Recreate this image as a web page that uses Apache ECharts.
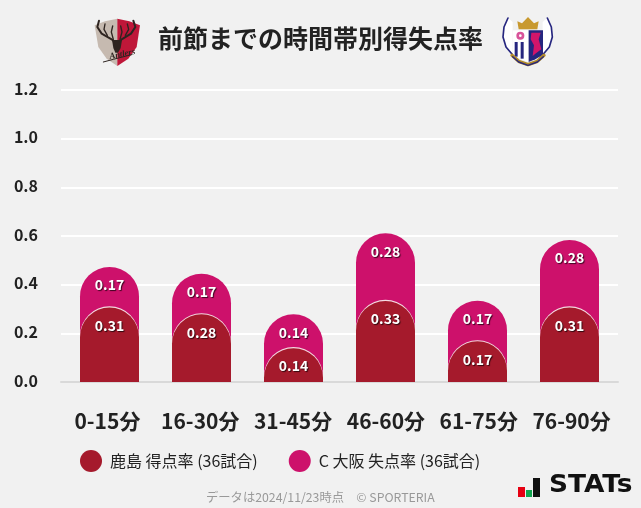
<!DOCTYPE html>
<html><head><meta charset="utf-8">
<style>html,body{margin:0;padding:0;background:#f1f1f1}#c{width:641px;height:508px}</style>
<script src="https://cdn.jsdelivr.net/npm/echarts@6/dist/echarts.min.js"></script>
</head><body><div id="c"></div>
<script>
const categories = ['0-15分','16-30分','31-45分','46-60分','61-75分','76-90分'];
const scored = [0.306,0.278,0.139,0.333,0.167,0.306];
const conceded = [0.167,0.167,0.139,0.278,0.167,0.278];
const scoredName = '鹿島 得点率 (36試合)';
const concededName = 'C 大阪 失点率 (36試合)';
const titleText = '前節までの時間帯別得失点率';
const footText = 'データは2024/11/23時点　© SPORTERIA';
const F = '"Noto Sans CJK JP","Noto Sans",sans-serif';
const RED='#a51a2c', PINK='#cd116b';
const chart = echarts.init(document.getElementById('c'),null,{renderer:'canvas'});
const lab = v => ({show:true,position:'insideTop',distance:11,color:'#fff',fontFamily:F,fontWeight:'bold',fontSize:14,
  textShadowColor:'rgba(0,0,0,.7)',textShadowBlur:1,textShadowOffsetX:1,textShadowOffsetY:1,
  formatter:p=>v[p.dataIndex].toFixed(2)});
const line=(points,w,c)=>({type:'polyline',shape:{points},style:{stroke:c,lineWidth:w,fill:'none',lineCap:'round',lineJoin:'round'}});
const poly=(points,c,smooth)=>({type:'polygon',shape:{points,smooth:smooth||0},style:{fill:c}});
const ANT='#2e2420', NAVY='#26267f';
chart.setOption({
  animation:false,
  backgroundColor:'#f1f1f1',
  textStyle:{fontFamily:F},
  title:[{text:titleText,left:153,top:21,textStyle:{fontFamily:F,fontSize:25,fontWeight:'bold',color:'#222'}},
         {text:footText,left:201,top:486,textStyle:{fontFamily:F,fontSize:12.3,fontWeight:'normal',color:'#999'}}],
  legend:{left:80,top:450,padding:0,itemWidth:22,itemHeight:22,itemGap:31,icon:'circle',
    itemStyle:{borderWidth:0},
    data:[scoredName,concededName],
    textStyle:{fontFamily:F,fontSize:16,color:'#222',padding:[0,0,0,3]}},
  grid:[{left:61,width:557,top:90,height:292},{left:63.5,width:552,top:90,height:292}],
  xAxis:[
    {gridIndex:0,type:'category',data:categories,offset:1,axisTick:{show:false},
     axisLine:{lineStyle:{color:'#d9d9d9',width:2}},
     axisLabel:{color:'#222',fontFamily:F,fontWeight:'bold',fontSize:21,margin:28,interval:0}},
    {gridIndex:1,type:'category',data:categories,axisTick:{show:false},axisLine:{show:false},axisLabel:{show:false}}
  ],
  yAxis:[
    {gridIndex:0,type:'value',min:0,max:1.2,interval:0.2,
     axisLabel:{color:'#222',fontFamily:F,fontWeight:'bold',fontSize:16,margin:23,verticalAlign:'bottom',lineHeight:3,formatter:v=>v.toFixed(1)},
     axisLine:{show:false},axisTick:{show:false},splitLine:{lineStyle:{color:'#ffffff',width:2}}},
    {gridIndex:1,type:'value',min:0,max:1.2,interval:0.2,show:false,splitLine:{show:false}}
  ],
  series:[
    {name:concededName,type:'bar',xAxisIndex:1,yAxisIndex:1,barWidth:59,barGap:'-100%',
     data:conceded.map((v,i)=>+(v+scored[i]).toFixed(3)),
     itemStyle:{color:PINK,borderRadius:[30,30,0,0]},label:lab(conceded)},
    {name:scoredName,type:'bar',xAxisIndex:1,yAxisIndex:1,barWidth:59,barGap:'-100%',
     data:scored,
     itemStyle:{color:RED,borderRadius:[30,30,0,0],shadowColor:'#f3d9e0',shadowBlur:0,shadowOffsetY:-1.2},label:lab(scored)}
  ],
  graphic:[
    {type:'group',x:90,y:12,scaleX:1/3,scaleY:1/3,children:[
      poly([[14,40],[45,28],[82,20],[82,162],[50,140],[25,105]],'#c6bab0'),
      poly([[82,20],[118,28],[150,40],[140,105],[115,140],[82,162]],'#bf1739'),
      line([[27,26],[22,45],[35,65],[65,82],[80,95]],6,ANT),
      line([[130,26],[136,45],[123,65],[95,82],[84,95]],6,ANT),
      line([[45,36],[42,52],[52,70]],4,ANT),
      line([[112,36],[116,52],[106,70]],4,ANT),
      line([[68,42],[64,60],[70,82]],4,ANT),
      line([[92,42],[96,60],[90,82]],4,ANT),
      poly([[66,84],[96,84],[92,108],[84,122],[76,122],[70,108]],ANT),
      line([[40,150],[70,142],[125,128]],3,ANT),
      {type:'text',x:56,y:122,rotation:0.2,style:{text:'Antlers',fontFamily:'"Liberation Serif",serif',fontStyle:'italic',fontWeight:'bold',fontSize:26,fill:ANT}}
    ]},
    {type:'group',x:498,y:12,scaleX:1/3,scaleY:1/3,children:[
      poly([[30,18],[44,30],[44,130],[52,135],[20,100],[15,55]],'#fff'),
      line([[30,18],[18,45],[15,75],[24,105],[52,138]],5,NAVY),
      poly([[148,18],[134,30],[134,130],[126,135],[158,100],[163,55]],'#fff'),
      line([[148,18],[160,45],[163,75],[154,105],[126,138]],5,NAVY),
      poly([[62,52],[58,28],[72,34],[90,15],[108,34],[122,28],[118,52]],'#c8992f'),
      poly([[45,55],[90,55],[90,88],[45,88]],'#fff'),
      {type:'circle',shape:{cx:67,cy:71,r:12},style:{fill:'#d8539a'}},
      {type:'circle',shape:{cx:67,cy:71,r:4},style:{fill:'#fff'}},
      poly([[45,88],[90,88],[90,150],[70,142],[45,128]],'#fff'),
      {type:'rect',shape:{x:50,y:90,width:9,height:44},style:{fill:NAVY}},
      {type:'rect',shape:{x:68,y:90,width:9,height:50},style:{fill:NAVY}},
      poly([[92,55],[135,55],[135,128],[112,142],[92,150]],NAVY),
      poly([[100,62],[128,62],[122,82],[130,112],[112,125],[104,132],[108,100],[98,82]],'#d3156a'),
      line([[42,130],[62,148],[90,158],[118,148],[138,130]],10,'#b08a2a'),
      line([[44,134],[62,150],[90,160],[118,150],[136,134]],4,NAVY)
    ]},
    {type:'group',x:518,y:478,children:[
      {type:'rect',shape:{x:0,y:9,width:7,height:10},style:{fill:'#e60012'}},
      {type:'rect',shape:{x:8,y:12,width:6,height:7},style:{fill:'#12a650'}},
      {type:'rect',shape:{x:15,y:0,width:7,height:19},style:{fill:'#111'}},
      {type:'text',x:31,y:-4,scaleX:1.1,style:{text:'STATs',fontFamily:'"DejaVu Sans",sans-serif',fontWeight:'bold',fontSize:24,fill:'#111'}}
    ]}
  ]
});
</script></body></html>
